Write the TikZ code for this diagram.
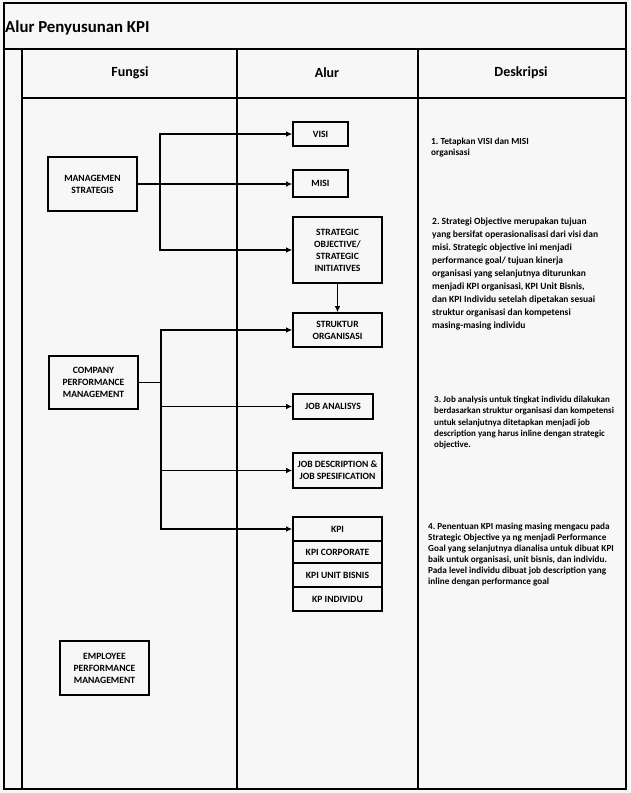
\documentclass[tikz,border=0pt]{standalone}
\usepackage{fontspec}
\setmainfont{Carlito}
\usetikzlibrary{arrows.meta}
\frenchspacing
\begin{document}
\begin{tikzpicture}[x=1pt,y=-1pt,
  grid/.style={line width=1.3pt},
  heavy/.style={line width=2pt},
  box/.style={draw,line width=1.6pt,align=center,inner sep=0pt,
    font=\fontsize{9.6}{12}\selectfont\bfseries},
  arr/.style={line width=1.5pt,-{Latex[length=6pt,width=5.5pt]}},
  ln/.style={line width=1.5pt},
  desc/.style={anchor=north west,align=left,inner sep=0pt},
  head/.style={font=\fontsize{14}{16}\selectfont\bfseries}
]
\useasboundingbox (0,0) rectangle (630,793);
\fill[black!3] (0,0) rectangle (630,793);
% table
\draw[grid] (4,3) rectangle (626,789);
\draw[heavy] (4,49) -- (626,49);
\draw[heavy] (22,98) -- (626,98);
\draw[grid] (22,49) -- (22,789);
\draw[grid] (237,49) -- (237,789);
\draw[grid] (418,49) -- (418,789);
% title and headers
\node[anchor=west,inner sep=0pt,font=\fontsize{16.8}{18}\selectfont\bfseries] (title) at (5,28) {Alur Penyusunan KPI};
\node[head] (hf) at (130,73) {Fungsi};
\node[head] (ha) at (327,73) {Alur};
\node[head] (hd) at (521,73) {Deskripsi};
% boxes
\node[box,minimum width=89pt,minimum height=54pt] (ms) at (92.5,184) {MANAGEMEN\\STRATEGIS};
\node[box,minimum width=55pt,minimum height=24pt] (visi) at (320.5,134) {VISI};
\node[box,minimum width=55pt,minimum height=27pt] (misi) at (320.5,183.5) {MISI};
\node[box,minimum width=89pt,minimum height=66pt] (so) at (337.5,250) {STRATEGIC\\OBJECTIVE/\\STRATEGIC\\INITIATIVES};
\node[box,minimum width=89pt,minimum height=34pt] (struk) at (337.5,330) {STRUKTUR\\ORGANISASI};
\node[box,minimum width=89pt,minimum height=53pt] (cpm) at (93.5,382.5) {COMPANY\\PERFORMANCE\\MANAGEMENT};
\node[box,minimum width=80pt,minimum height=25pt] (ja) at (333,406.5) {JOB ANALISYS};
\node[box,minimum width=89pt,minimum height=35pt] (jd) at (337.5,470.5) {JOB DESCRIPTION \&\\JOB SPESIFICATION};
\node[box,minimum width=89pt,minimum height=24pt] (kpi1) at (337.5,529) {KPI};
\node[box,minimum width=89pt,minimum height=22pt] (kpi2) at (337.5,552) {KPI CORPORATE};
\node[box,minimum width=89pt,minimum height=24pt] (kpi3) at (337.5,575) {KPI UNIT BISNIS};
\node[box,minimum width=89pt,minimum height=24pt] (kpi4) at (337.5,599) {KP INDIVIDU};
\node[box,minimum width=89pt,minimum height=54pt] (epm) at (104.5,668) {EMPLOYEE\\PERFORMANCE\\MANAGEMENT};
% connectors
\path (ms.east) ++(22,0) coordinate (j1);
\path (cpm.east) ++(22,0) coordinate (j2);
\draw[arr] (ms.east) -- (ms.east -| misi.west);
\draw[arr] (j1) |- (visi.west);
\draw[arr] (j1) |- (so.west);
\draw[arr] (so.south) -- (struk.north);
\draw[ln] (cpm.east) -- (j2);
\draw[arr] (j2) |- (struk.west);
\draw[arr] (j2) |- (ja.west);
\draw[arr] (j2) |- (jd.west);
\draw[arr] (j2) |- (kpi1.west);
% descriptions
\node[desc,font=\fontsize{9.3}{10.5}\selectfont\bfseries] (d1) at (431,138) {1. Tetapkan VISI dan MISI\\organisasi};
\node[desc,font=\fontsize{9.5}{12.9}\selectfont\bfseries] (d2) at (432,218) {2. Strategi Objective merupakan tujuan\\yang bersifat operasionalisasi dari visi dan\\misi. Strategic objective ini menjadi\\performance goal/ tujuan kinerja\\organisasi yang selanjutnya diturunkan\\menjadi KPI organisasi, KPI Unit Bisnis,\\dan KPI Individu setelah dipetakan sesuai\\struktur organisasi dan kompetensi\\masing-masing individu};
\node[desc,font=\fontsize{9}{11.3}\selectfont\bfseries] (d3) at (434,396) {3. Job analysis untuk tingkat individu dilakukan\\berdasarkan struktur organisasi dan kompetensi\\untuk selanjutnya ditetapkan menjadi job\\description yang harus inline dengan strategic\\objective.};
\node[desc,font=\fontsize{9.2}{11}\selectfont\bfseries] (d4) at (428,523) {4. Penentuan KPI masing masing mengacu pada\\Strategic Objective ya ng menjadi Performance\\Goal yang selanjutnya dianalisa untuk dibuat KPI\\baik untuk organisasi, unit bisnis, dan individu.\\Pada level individu dibuat job description yang\\inline dengan performance goal};
\end{tikzpicture}
\end{document}
